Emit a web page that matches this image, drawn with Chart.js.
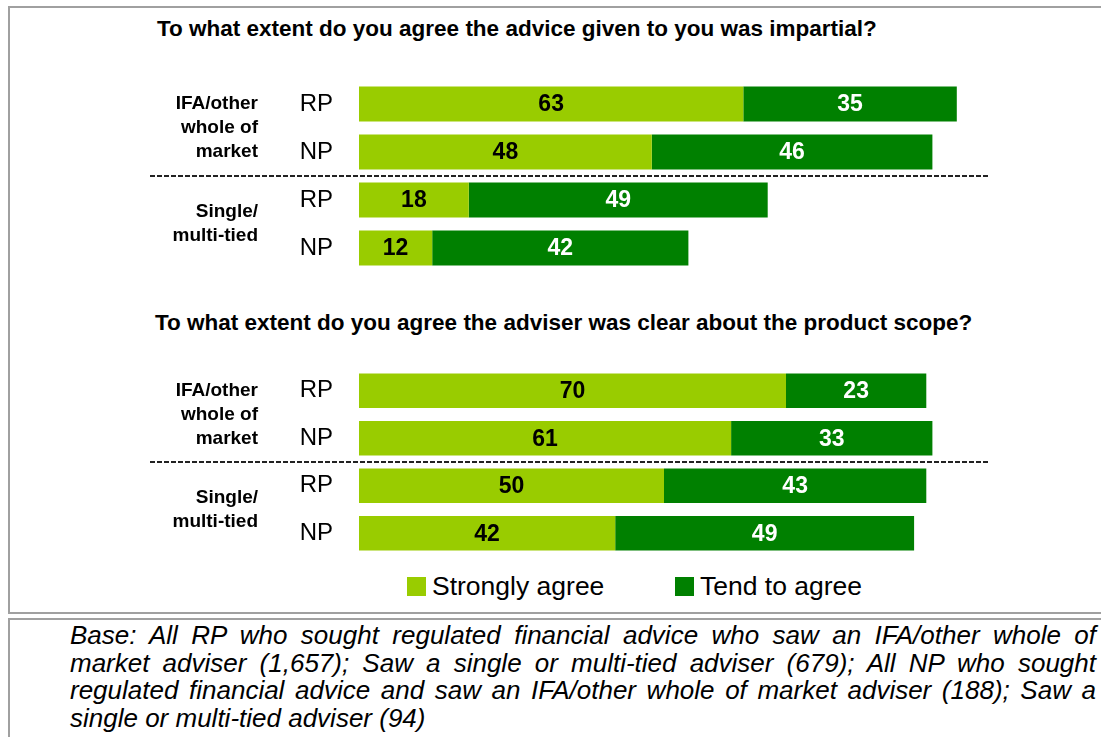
<!DOCTYPE html>
<html>
<head>
<meta charset="utf-8">
<script src="https://cdn.jsdelivr.net/npm/chart.js@4.4.1/dist/chart.umd.min.js"></script>
<style>
  html, body { margin: 0; padding: 0; background: #fff; overflow: hidden; }
  body { width: 1101px; height: 737px; position: relative; font-family: 'Liberation Sans', Arial, sans-serif; }
  .box { position: absolute; left: 8px; width: 1200px; border: 2px solid #a0a0a0; box-sizing: border-box; }
  .title { position: absolute; left: 157px; font-weight: bold; font-size: 22.5px; line-height: 22px; white-space: nowrap; color: #000; }
  .chart { position: absolute; left: 0; width: 1101px; }
  .legend { position: absolute; top: 573px; font-size: 26.5px; line-height: 26px; white-space: nowrap; }
  .legend span.sw { position: absolute; top: 4px; width: 19px; height: 19px; }
  .legend span.tx { position: absolute; left: 25px; top: 0; }
  .note { position: absolute; left: 70px; top: 622px; width: 1026px; font-size: 26px; line-height: 27.5px;
          font-style: italic; text-align: justify; color: #000; }
</style>
</head>
<body>
<div class="box" style="top:6px;height:608px"></div>
<div class="box" style="top:618px;height:200px"></div>

<div class="title" style="top:18px">To what extent do you agree the advice given to you was impartial?</div>
<div class="chart" style="top:80px;height:192px"><canvas id="impartial"></canvas></div>

<div class="title" style="top:312px;left:155px">To what extent do you agree the adviser was clear about the product scope?</div>
<div class="chart" style="top:367px;height:190px"><canvas id="scope"></canvas></div>

<div class="legend" style="left:407px"><span class="sw" style="background:#99cc00"></span><span class="tx">Strongly agree</span></div>
<div class="legend" style="left:675px"><span class="sw" style="background:#008000"></span><span class="tx">Tend to agree</span></div>

<div class="note">Base: All RP who sought regulated financial advice who saw an IFA/other whole of market adviser (1,657); Saw a single or multi-tied adviser (679); All NP who sought regulated financial advice and saw an IFA/other whole of market adviser (188); Saw a single or multi-tied adviser (94)</div>

<script>
const ROWS = ['RP', 'NP', 'RP', 'NP'];
const GROUPS = [['IFA/other', 'whole of', 'market'], ['Single/', 'multi-tied']];
const SERIES = ['Strongly agree', 'Tend to agree'];
const COLORS = ['#99cc00', '#008000'];

const impartialStrong = [63, 48, 18, 12];
const impartialTend = [35, 46, 49, 42];
const scopeStrong = [70, 61, 50, 42];
const scopeTend = [23, 33, 43, 49];

const FONT = "'Liberation Sans', Arial, sans-serif";

// segment values, group names and the dashed split between the two adviser types
const decorations = {
  id: 'decorations',
  afterDatasetsDraw(chart, args, opts) {
    const ctx = chart.ctx;
    const y = chart.scales.y;
    ctx.save();

    ctx.font = `bold 23px ${FONT}`;
    ctx.textAlign = 'center';
    ctx.textBaseline = 'middle';
    chart.data.datasets.forEach((ds, i) => {
      ctx.fillStyle = i === 0 ? '#000' : '#fff';
      chart.getDatasetMeta(i).data.forEach((bar, j) => {
        ctx.fillText(String(ds.data[j]), (bar.x + bar.base) / 2, bar.y + 1);
      });
    });

    const split = (y.getPixelForValue(1) + y.getPixelForValue(2)) / 2;
    ctx.beginPath();
    ctx.setLineDash([5, 2]);
    ctx.lineWidth = 2;
    ctx.strokeStyle = '#222';
    ctx.moveTo(150, Math.round(split));
    ctx.lineTo(opts.lineEnd, Math.round(split));
    ctx.stroke();
    ctx.setLineDash([]);

    ctx.font = `bold 19px ${FONT}`;
    ctx.textAlign = 'right';
    ctx.fillStyle = '#000';
    GROUPS.forEach((lines, g) => {
      const mid = (y.getPixelForValue(g * 2) + y.getPixelForValue(g * 2 + 1)) / 2;
      const top = mid - (lines.length - 1) * 24 / 2;
      lines.forEach((txt, k) => ctx.fillText(txt, 258, top + k * 24));
    });
    ctx.restore();
  },
};

function makeChart(id, strong, tend, lineEnd) {
  return new Chart(document.getElementById(id), {
    type: 'bar',
    data: {
      labels: ROWS,
      datasets: [
        { label: SERIES[0], data: strong, backgroundColor: COLORS[0] },
        { label: SERIES[1], data: tend, backgroundColor: COLORS[1] },
      ],
    },
    options: {
      indexAxis: 'y',
      responsive: true,
      maintainAspectRatio: false,
      animation: false,
      layout: { padding: { left: 0, right: 132, top: 0, bottom: 0 } },
      datasets: { bar: { categoryPercentage: 1, barPercentage: 0.73 } },
      plugins: {
        legend: { display: false },
        tooltip: { enabled: false },
        decorations: { lineEnd },
      },
      scales: {
        x: { stacked: true, min: 0, max: 100, display: false },
        y: {
          stacked: true,
          grid: { display: false, drawTicks: false },
          border: { display: false },
          ticks: { color: '#000', padding: 26, font: { family: FONT, size: 24 } },
          afterFit(scale) {
            scale.width = 359;
            scale.paddingTop = 0;
            scale.paddingBottom = 0;
          },
        },
      },
    },
    plugins: [decorations],
  });
}

makeChart('impartial', impartialStrong, impartialTend, 990);
makeChart('scope', scopeStrong, scopeTend, 988);
</script>
</body>
</html>
